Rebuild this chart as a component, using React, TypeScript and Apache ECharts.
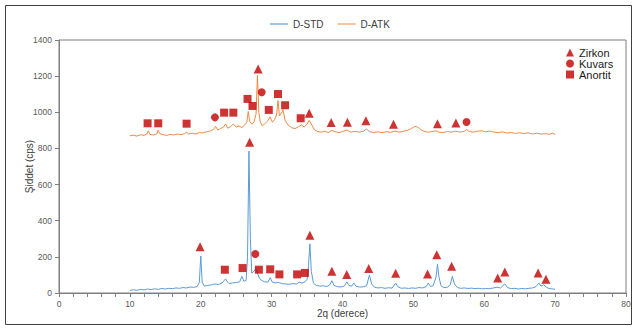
import React, { useEffect, useRef } from "react";
import * as echarts from "echarts";

const xTicks = [0, 10, 20, 30, 40, 50, 60, 70, 80];
const yTicks = [0, 200, 400, 600, 800, 1000, 1200, 1400];
const seriesNames = ["D-STD", "D-ATK"];
const phaseNames = ["Zirkon", "Kuvars", "Anortit"];

// D-STD pattern [2θ, cps]
const stdPattern: number[][] = [
  [10, 14], [10.5, 18], [11, 15], [11.5, 20], [12, 17], [12.5, 22], [13, 19], [13.5, 23], [14, 20], [14.5, 25],
  [15, 22], [15.5, 26], [16, 24], [16.5, 28], [17, 26], [17.5, 30], [18, 28], [18.5, 33], [19, 31], [19.5, 36],
  [19.8, 60], [20.0, 205], [20.2, 60], [20.5, 38], [21, 42], [21.5, 45], [22, 50], [22.5, 47], [23, 55], [23.5, 78],
  [23.8, 60], [24, 52], [24.5, 56], [25, 58], [25.5, 62], [25.8, 92], [26.1, 65], [26.4, 70], [26.6, 200], [26.8, 785],
  [27.0, 300], [27.2, 110], [27.5, 120], [27.8, 135], [28.0, 110], [28.3, 80], [28.6, 70], [29, 62], [29.5, 60], [29.8, 85],
  [30.1, 60], [30.5, 56], [31, 58], [31.5, 52], [32, 50], [32.5, 48], [33, 52], [33.5, 50], [33.9, 60], [34.3, 55],
  [34.7, 62], [35.0, 75], [35.2, 150], [35.4, 272], [35.6, 120], [35.9, 55], [36.3, 42], [36.8, 38], [37.3, 40], [37.8, 36],
  [38.2, 45], [38.5, 68], [38.8, 42], [39.3, 35], [39.8, 33], [40.3, 40], [40.6, 62], [40.9, 42], [41.3, 38], [41.6, 55],
  [41.9, 38], [42.4, 33], [42.9, 34], [43.4, 40], [43.8, 100], [44.1, 50], [44.5, 32], [45, 28], [45.5, 30], [46, 26],
  [46.5, 29], [47, 27], [47.5, 55], [47.8, 35], [48.3, 26], [48.8, 28], [49.3, 25], [49.8, 28], [50.3, 26], [50.8, 30],
  [51.3, 28], [51.8, 35], [52.1, 55], [52.4, 36], [52.8, 40], [53.2, 90], [53.4, 160], [53.6, 90], [53.9, 40], [54.3, 30],
  [54.8, 32], [55.2, 45], [55.5, 92], [55.8, 50], [56.2, 30], [56.7, 26], [57.2, 28], [57.7, 25], [58.2, 27], [58.7, 24],
  [59.2, 26], [59.7, 23], [60.2, 25], [60.7, 24], [61.2, 27], [61.8, 32], [62.3, 28], [62.9, 50], [63.3, 30], [63.8, 24],
  [64.3, 26], [64.8, 22], [65.3, 25], [65.8, 23], [66.3, 26], [66.8, 28], [67.3, 35], [67.7, 55], [68.0, 38], [68.4, 46],
  [68.8, 30], [69.3, 24], [69.7, 22], [70, 20],
];

// D-ATK pattern [2θ, cps]
const atkPattern: number[][] = [
  [10, 870], [10.5, 873], [11, 868], [11.5, 876], [12, 872], [12.4, 880], [12.6, 898], [12.8, 878], [13.3, 874], [13.8, 880],
  [14.0, 900], [14.2, 882], [14.7, 876], [15.2, 872], [15.7, 878], [16.2, 874], [16.7, 880], [17.2, 876], [17.7, 882], [18.0, 890],
  [18.3, 880], [18.8, 884], [19.3, 880], [19.8, 888], [20.3, 886], [20.8, 892], [21.3, 896], [21.8, 905], [22.1, 922], [22.4, 902],
  [22.8, 910], [23.2, 918], [23.5, 935], [23.8, 912], [24.2, 920], [24.6, 935], [25.0, 918], [25.4, 925], [25.8, 915], [26.2, 930],
  [26.5, 945], [26.7, 1005], [26.9, 950], [27.2, 935], [27.5, 945], [27.8, 990], [28.0, 1205], [28.2, 1000], [28.4, 945], [28.7, 925],
  [29.0, 935], [29.4, 950], [29.8, 975], [30.1, 945], [30.4, 960], [30.7, 985], [30.9, 1065], [31.1, 980], [31.4, 995], [31.6, 1015],
  [31.9, 955], [32.3, 930], [32.8, 915], [33.3, 910], [33.8, 920], [34.2, 930], [34.6, 918], [35.0, 935], [35.3, 955], [35.6, 935],
  [36.0, 905], [36.5, 893], [37, 890], [37.5, 895], [38, 888], [38.5, 900], [39, 892], [39.5, 888], [40, 893], [40.6, 902],
  [41.2, 890], [41.8, 895], [42.4, 890], [43.0, 896], [43.4, 908], [43.8, 893], [44.4, 888], [45, 892], [45.6, 887], [46.2, 893],
  [46.8, 889], [47.4, 896], [48, 890], [48.6, 895], [49.2, 900], [49.7, 910], [50.2, 922], [50.6, 918], [51.0, 905], [51.5, 895],
  [52, 890], [52.6, 893], [53.2, 898], [53.6, 890], [54.2, 888], [54.8, 893], [55.4, 890], [56.0, 896], [56.6, 890], [57.2, 895],
  [57.5, 905], [57.9, 893], [58.5, 890], [59, 895], [59.6, 898], [60.2, 892], [60.8, 896], [61.4, 890], [62, 887], [62.6, 892],
  [63.2, 885], [63.8, 888], [64.4, 883], [65, 887], [65.6, 882], [66.2, 886], [66.8, 880], [67.4, 884], [68, 879], [68.6, 882],
  [69.2, 878], [69.6, 884], [70, 878],
];

// phase markers [2θ, cps]
const zirkonMarks: number[][] = [
  [19.9, 256], [26.9, 834], [35.4, 319], [38.5, 121], [40.6, 102], [43.7, 135], [47.5, 109], [52.0, 105],
  [53.3, 212], [55.4, 148], [61.9, 83], [62.9, 116], [67.6, 111], [68.7, 76],
  [28.1, 1240], [35.3, 994], [38.4, 943], [40.7, 945], [43.3, 953], [47.2, 934], [53.4, 937], [56.0, 941],
];
const kuvarsMarks: number[][] = [
  [27.7, 216], [22.0, 972], [28.6, 1111], [57.5, 946],
];
const anortitMarks: number[][] = [
  [23.4, 129], [25.9, 138], [28.2, 129], [29.8, 131], [31.1, 103], [33.6, 103], [34.7, 111],
  [12.5, 939], [14.0, 939], [18.0, 937], [23.3, 998], [24.6, 998], [26.6, 1074], [27.3, 1035],
  [29.6, 1013], [30.9, 1101], [31.9, 1039], [34.1, 967],
];

const RED = "#C00000";
const BLUE = "#5B9BD5";
const ORANGE = "#F08A45";
const FONT = "'Liberation Sans', Arial, sans-serif";

export default function App() {
  const ref = useRef<HTMLDivElement>(null);
  useEffect(() => {
    document.body.style.margin = "0";
    const chart = echarts.init(ref.current!, null, { renderer: "svg" });
    const markerSeries = (name: string, symbol: string, size: number, data: number[][]) => ({
      name,
      type: "scatter",
      data,
      symbol,
      symbolSize: size,
      itemStyle: { color: RED },
      z: 5,
    });
    chart.setOption({
      animation: false,
      textStyle: { fontFamily: FONT },
      graphic: [
        {
          type: "rect",
          shape: { x: 5.5, y: 5.5, width: 626, height: 319 },
          style: { fill: "none", stroke: "#404040", lineWidth: 1 },
          silent: true,
        },
      ],
      legend: [
        {
          data: [
            { name: seriesNames[0], icon: "rect", itemStyle: { color: BLUE, opacity: 0.6 } },
            { name: seriesNames[1], icon: "rect", itemStyle: { color: ORANGE, opacity: 0.5 } },
          ],
          left: 265,
          top: 14,
          itemWidth: 18,
          itemHeight: 2,
          itemGap: 14,
          textStyle: { fontSize: 10, color: "#404040", fontFamily: FONT },
        },
        {
          data: phaseNames,
          orient: "vertical",
          left: 566,
          top: 47,
          padding: 0,
          itemWidth: 8,
          itemHeight: 8,
          itemGap: 0,
          textStyle: { fontSize: 11, color: "#1a1a1a", fontFamily: FONT, lineHeight: 10 },
        },
      ],
      grid: {
        left: 59,
        top: 40,
        right: 12,
        bottom: 43,
        show: true,
        borderColor: "#7f7f7f",
        borderWidth: 1,
      },
      xAxis: {
        type: "value",
        min: xTicks[0],
        max: xTicks[xTicks.length - 1],
        interval: 10,
        name: "2q (derece)",
        nameLocation: "middle",
        nameGap: 15,
        nameMoveOverlap: false,
        nameTextStyle: { fontSize: 10, color: "#404040", fontFamily: FONT },
        axisLine: { show: true, lineStyle: { color: "#7f7f7f" } },
        axisTick: { show: true, length: 4, lineStyle: { color: "#7f7f7f" } },
        minorTick: { show: true, splitNumber: 5, length: 4, lineStyle: { color: "#7f7f7f" } },
        splitLine: { show: false },
        axisLabel: { fontSize: 8.5, color: "#595959", margin: 6, fontFamily: FONT },
      },
      yAxis: {
        type: "value",
        min: yTicks[0],
        max: yTicks[yTicks.length - 1],
        interval: 200,
        name: "Şiddet (cps)",
        nameLocation: "middle",
        nameGap: 25,
        nameMoveOverlap: false,
        nameTextStyle: { fontSize: 10, color: "#404040", fontFamily: FONT },
        axisLine: { show: true, lineStyle: { color: "#7f7f7f" } },
        axisTick: { show: true, length: 4, lineStyle: { color: "#7f7f7f" } },
        splitLine: { show: false },
        axisLabel: {
          fontSize: 8.5,
          color: "#595959",
          margin: 7,
          fontFamily: FONT,
          formatter: (v: number) => String(v),
        },
      },
      series: [
        {
          name: seriesNames[0],
          type: "line",
          data: stdPattern,
          symbol: "none",
          lineStyle: { color: BLUE, width: 1 },
          itemStyle: { color: BLUE },
          z: 2,
        },
        {
          name: seriesNames[1],
          type: "line",
          data: atkPattern,
          symbol: "none",
          lineStyle: { color: ORANGE, width: 1 },
          itemStyle: { color: ORANGE },
          z: 2,
        },
        markerSeries(phaseNames[0], "triangle", 9, zirkonMarks),
        markerSeries(phaseNames[1], "circle", 8, kuvarsMarks),
        markerSeries(phaseNames[2], "rect", 8, anortitMarks),
      ],
    });
    return () => chart.dispose();
  }, []);
  return <div ref={ref} style={{ width: 638, height: 336 }} />;
}
